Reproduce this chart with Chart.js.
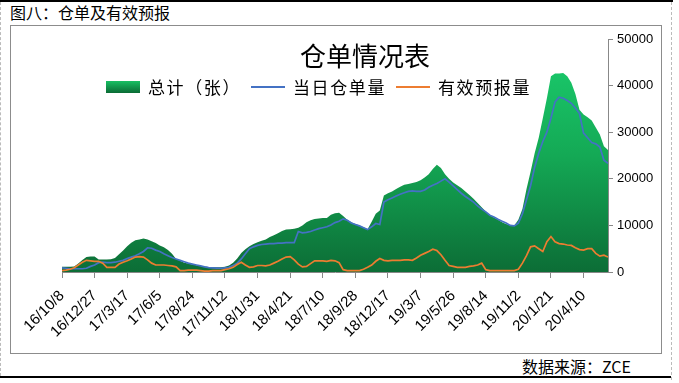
<!DOCTYPE html>
<html>
<head>
<meta charset="utf-8">
<script src="https://cdn.jsdelivr.net/npm/chart.js@4.4.0/dist/chart.umd.min.js"></script>
<style>
  body { margin: 0; background: #fff; }
  #page { position: relative; width: 679px; height: 383px; overflow: hidden; font-family: "Noto Sans CJK SC", sans-serif; color: #000; }
  .line-top { position: absolute; left: 0; top: 0; width: 673px; height: 2px; background: #000; }
  .line-bottom { position: absolute; left: 0; top: 376px; width: 671px; height: 2px; background: #000; }
  .dash-left { position: absolute; left: 0; top: 2px; height: 374px; border-left: 1px dashed #bbb; }
  .dash-right { position: absolute; left: 671px; top: 2px; height: 378px; border-left: 1px dashed #bbb; }
  #header { position: absolute; left: 10px; top: 3px; font-size: 16px; line-height: 18px; }
  #box { position: absolute; left: 10px; top: 25px; width: 652px; height: 329px; box-sizing: border-box; border: 1px solid #8c8c8c; }
  #wrap { position: absolute; left: 10px; top: 25px; width: 652px; height: 329px; }
  #title { position: absolute; left: 300px; top: 41px; width: 130px; text-align: center; font-size: 26px; line-height: 28px; }
  #legend { position: absolute; left: 106px; top: 77px; display: flex; align-items: center; font-size: 17px; line-height: 20px; letter-spacing: 1.6px; }
  .swatch { width: 34px; height: 12px; background: linear-gradient(#18bf63, #0b6b35); margin-right: 8px; }
  .lsample { width: 34px; height: 2px; margin: 0 8px 0 10px; }
  #source { position: absolute; left: 522px; top: 357px; font-size: 16px; line-height: 18px; }
</style>
</head>
<body>
<div id="page">
  <div class="line-top"></div>
  <div class="dash-left"></div>
  <div class="dash-right"></div>
  <div class="line-bottom"></div>
  <div id="header">图八：仓单及有效预报</div>
  <div id="box"></div>
  <div id="wrap"><canvas id="grafico"></canvas></div>
  <div id="title">仓单情况表</div>
  <div id="legend">
    <div class="swatch"></div><span>总计（张）</span>
    <div class="lsample" style="background:#4472c4"></div><span>当日仓单量</span>
    <div class="lsample" style="background:#ed7d31"></div><span>有效预报量</span>
  </div>
  <div id="source">数据来源：ZCE</div>
</div>
<script>
// rótulos do eixo x (a cada 80 dias a partir de 16/10/8)
const tickLabels = [
  "16/10/8", "16/12/27", "17/3/17", "17/6/5", "17/8/24", "17/11/12",
  "18/1/31", "18/4/21", "18/7/10", "18/9/28", "18/12/17", "19/3/7",
  "19/5/26", "19/8/14", "19/11/2", "20/1/21", "20/4/10",
];
const DIAS_PASSO = 10;
const DIAS_TICK = 80;

// 总计（张） - amostras a cada 10 dias
const totalStock = [
  1100, 1100, 1100, 1200, 1800, 2600, 3200, 3300, 3300, 2700,
  2700, 2700, 2750, 3000, 3800, 4600, 5500, 6300, 6800, 7000,
  7200, 7000, 6600, 6200, 5700, 5300, 4700, 3900, 2800, 2400,
  2000, 1800, 1600, 1450, 1300, 1200, 1050, 1000, 1000, 1000,
  1150, 1400, 2000, 2900, 4100, 4900, 5500, 6000, 6400, 6700,
  7000, 7500, 7900, 8300, 8800, 9100, 9200, 9300, 9500, 10000,
  10700, 11100, 11400, 11500, 11600, 11600, 12300, 12600, 12700, 12000,
  11200, 10700, 10300, 10000, 9600, 9200, 10800, 12500, 13200, 16400,
  16900, 17300, 17800, 18300, 18700, 18900, 19100, 19300, 19700, 20300,
  21000, 22100, 23000, 22300, 21000, 20000, 19200, 18600, 18000, 17300,
  16500, 15700, 14800, 13900, 13000, 12200, 11700, 11200, 10700, 10300,
  10000, 10000, 11200, 13500, 17800, 21500, 25500, 28800, 33000, 37300,
  42000, 42600, 42600, 42700, 42000, 40600, 38200, 34800, 33800, 33200,
  32500, 31000, 29500, 27000, 26200,
];

// 当日仓单量
const dailyWarrant = [
  900, 800, 700, 700, 700, 700, 800, 1200, 1500, 2000,
  2100, 2000, 2000, 2100, 2300, 2500, 2900, 3200, 3500, 3900,
  4400, 5200, 5100, 4700, 4400, 3900, 3500, 3100, 2800, 2500,
  2200, 1900, 1700, 1500, 1300, 1100, 950, 900, 850, 800,
  900, 1000, 1400, 1900, 2800, 3900, 5000, 5400, 5700, 5900,
  6000, 6100, 6100, 6200, 6200, 6300, 6300, 6300, 8700, 8400,
  8500, 8700, 9000, 9300, 9500, 9700, 10100, 10600, 10900, 11400,
  11100, 10500, 10200, 9900, 9500, 9100, 9700, 10400, 10200, 15000,
  15500, 15900, 16300, 16700, 17000, 17300, 17400, 17300, 17300, 17600,
  18200, 18600, 19000, 19500, 20000, 19300, 18500, 17700, 16900, 16200,
  15600, 15000, 14200, 13500, 12900, 12200, 11800, 11300, 10900, 10500,
  10000, 9900, 10500, 12500, 15500, 18500, 22500, 25500, 28000, 30000,
  33000, 36500, 37500, 37300, 36800, 36200, 35200, 34000, 29800, 28800,
  27800, 27500, 26800, 24000, 23300,
];

// 有效预报量
const validForecast = [
  300, 400, 600, 900, 1500, 2100, 2500, 2400, 2300, 2300,
  1900, 1000, 1000, 1000, 1700, 2100, 2400, 2800, 3200, 3300,
  3200, 2600, 1900, 1500, 1500, 1500, 1400, 1300, 1100, 300,
  300, 400, 400, 400, 300, 200, 200, 300, 300, 300,
  500, 700, 1000, 1600, 2100, 1500, 1000, 1100, 1400, 1400,
  1300, 1500, 1900, 2300, 2800, 3200, 3300, 2600, 1700, 1100,
  1200, 1800, 2400, 2400, 2400, 2300, 2500, 2400, 2000, 500,
  300, 300, 300, 300, 600, 1000, 1500, 2300, 2900, 2500,
  2400, 2500, 2500, 2500, 2600, 2600, 2500, 3000, 3600, 4000,
  4400, 4900, 4600, 3700, 2500, 1400, 1200, 1000, 1000, 1000,
  1200, 1300, 1500, 1900, 500, 300, 300, 300, 300, 300,
  300, 300, 600, 1900, 3500, 5400, 5600, 5000, 4400, 6500,
  7600, 6500, 6100, 6000, 5800, 5700, 5200, 4800, 4700, 5000,
  5000, 4000, 3400, 3600, 3200,
];

const dias = totalStock.map((_, i) => i * DIAS_PASSO);

const FONTE_NUM = { family: "Liberation Sans", size: 13 };
const FONTE_X = { family: "Liberation Sans", size: 15 };

function gradienteVerde(contexto) {
  const area = contexto.chart.chartArea;
  if (!area) return "#13a857";
  const g = contexto.chart.ctx.createLinearGradient(0, area.top, 0, area.bottom);
  g.addColorStop(0, "#1bcf6f");
  g.addColorStop(0.5, "#14a955");
  g.addColorStop(1, "#0c6d36");
  return g;
}

const ctx = document.getElementById("grafico").getContext("2d");
new Chart(ctx, {
  type: "line",
  data: {
    labels: dias,
    datasets: [
      {
        label: "总计（张）",
        data: totalStock,
        fill: "origin",
        backgroundColor: gradienteVerde,
        borderColor: "rgba(0,0,0,0)",
        borderWidth: 0,
        pointRadius: 0,
        order: 2,
      },
      {
        label: "当日仓单量",
        data: dailyWarrant,
        borderColor: "#4472c4",
        borderWidth: 1.7,
        pointRadius: 0,
        fill: false,
        order: 1,
      },
      {
        label: "有效预报量",
        data: validForecast,
        borderColor: "#ed7d31",
        borderWidth: 1.7,
        pointRadius: 0,
        fill: false,
        order: 0,
      },
    ],
  },
  options: {
    responsive: true,
    maintainAspectRatio: false,
    animation: false,
    layout: { padding: { left: 52, top: 14, right: 0, bottom: 0 } },
    plugins: {
      legend: { display: false },
      tooltip: { enabled: false },
    },
    scales: {
      x: {
        type: "linear",
        min: 0,
        max: dias[dias.length - 1],
        afterFit: (s) => { s.height = 82; },
        grid: { drawOnChartArea: false, color: "#888", tickLength: 6 },
        border: { color: "#888" },
        ticks: {
          stepSize: DIAS_TICK,
          includeBounds: false,
          autoSkip: false,
          maxRotation: 45,
          minRotation: 45,
          padding: 9,
          color: "#000",
          font: FONTE_X,
          callback: (v) => tickLabels[Math.round(v / DIAS_TICK)],
        },
      },
      y: {
        position: "right",
        min: 0,
        max: 50000,
        afterFit: (s) => { s.width = 54; },
        grid: { drawOnChartArea: false, color: "#888", tickLength: 5 },
        border: { color: "#888" },
        ticks: {
          stepSize: 10000,
          padding: 4,
          color: "#000",
          font: FONTE_NUM,
          callback: (v) => String(v),
        },
      },
    },
  },
});
</script>
</body>
</html>
